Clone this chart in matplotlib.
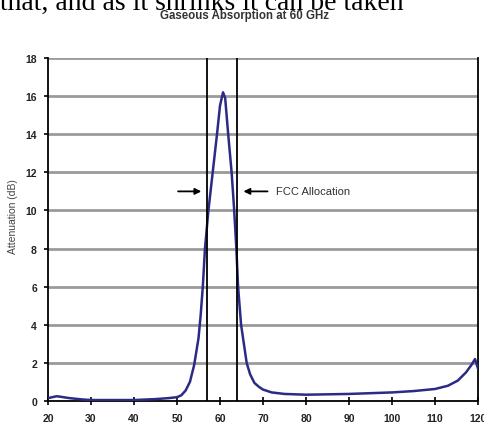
import matplotlib.pyplot as plt

# Courbe d'atténuation (dB) en fonction de la fréquence (GHz)
freq = [20, 21, 22, 23, 25, 28, 30, 35, 40, 45, 48, 50, 51, 52, 53, 54, 55,
        55.5, 56, 56.5, 57.3, 58.3, 59.3, 60, 60.7, 61.2, 61.9, 62.7, 63.3,
        63.8, 64.2, 64.9, 66.2, 67, 68, 69, 70, 72, 75, 80, 90, 100, 105,
        110, 113, 115.3, 117.2, 118.5, 119.3, 120]
attenuation = [0.15, 0.2, 0.25, 0.22, 0.15, 0.08, 0.05, 0.05, 0.05, 0.1, 0.15,
               0.2, 0.3, 0.55, 1.0, 1.9, 3.3, 4.5, 6.0, 8.0, 10.0, 12.0, 14.0,
               15.5, 16.2, 15.9, 14.0, 12.0, 10.0, 8.0, 6.0, 4.0, 2.0, 1.4,
               0.95, 0.75, 0.6, 0.45, 0.37, 0.33, 0.37, 0.45, 0.52, 0.63, 0.8,
               1.07, 1.5, 1.9, 2.2, 1.7]

# Bande allouée par la FCC
fcc_band = [57, 64]

x_ticks = [20, 30, 40, 50, 60, 70, 80, 90, 100, 110, 120]
y_ticks = [0, 2, 4, 6, 8, 10, 12, 14, 16, 18]

fig = plt.figure(figsize=(4.85, 4.39), dpi=100)
ax = fig.add_axes([0.099, 0.0843, 0.8866, 0.7813])

# Grille horizontale grise
for y in y_ticks[1:]:
    ax.axhline(y, color='#9a9a9a', linewidth=2, zorder=1)

ax.plot(freq, attenuation, color='#2b2b85', linewidth=1.8, zorder=3)

for f in fcc_band:
    ax.axvline(f, color='black', linewidth=1.3, zorder=4)

# Flèches "FCC Allocation"
ax.annotate('', xy=(56.3, 11), xytext=(49.6, 11),
            arrowprops=dict(arrowstyle='-|>', color='black', lw=1.3,
                            mutation_scale=9))
ax.annotate('', xy=(64.8, 11), xytext=(71.7, 11),
            arrowprops=dict(arrowstyle='-|>', color='black', lw=1.3,
                            mutation_scale=9))
ax.text(73.0, 11, 'FCC Allocation', fontsize=8, color='#333333',
        va='center', ha='left', family='Liberation Sans')

ax.set_xlim(20, 120)
ax.set_ylim(0, 18)
ax.set_xticks(x_ticks)
ax.set_yticks(y_ticks)
ax.tick_params(axis='x', direction='inout', length=6, width=1.2, pad=6,
               labelsize=7.5)
ax.tick_params(axis='y', direction='out', length=3, width=1.2, pad=5,
               labelsize=7.5)
for lab in ax.get_xticklabels() + ax.get_yticklabels():
    lab.set_fontweight('bold')
    lab.set_family('Liberation Sans')
    lab.set_color('#222222')

for side in ['left', 'right', 'bottom']:
    ax.spines[side].set_linewidth(1.3)
ax.spines['top'].set_visible(False)

ax.set_ylabel('Attenuation (dB)', fontsize=7.5, color='#444444',
              family='Liberation Sans')
ax.yaxis.set_label_coords(-0.07, 0.54)

fig.text(0.505, 0.964, 'Gaseous Absorption at 60 GHz', fontsize=8.3,
         fontweight='bold', color='#333333', ha='center', va='center',
         family='Liberation Sans')

# Texte du document, coupé en haut de l'image
fig.text(0.0, 0.978, 'that, and as it shrinks it can be taken', fontsize=20,
         family='Liberation Serif', ha='left', va='baseline', color='black')

fig.savefig('out.png', dpi=100)
